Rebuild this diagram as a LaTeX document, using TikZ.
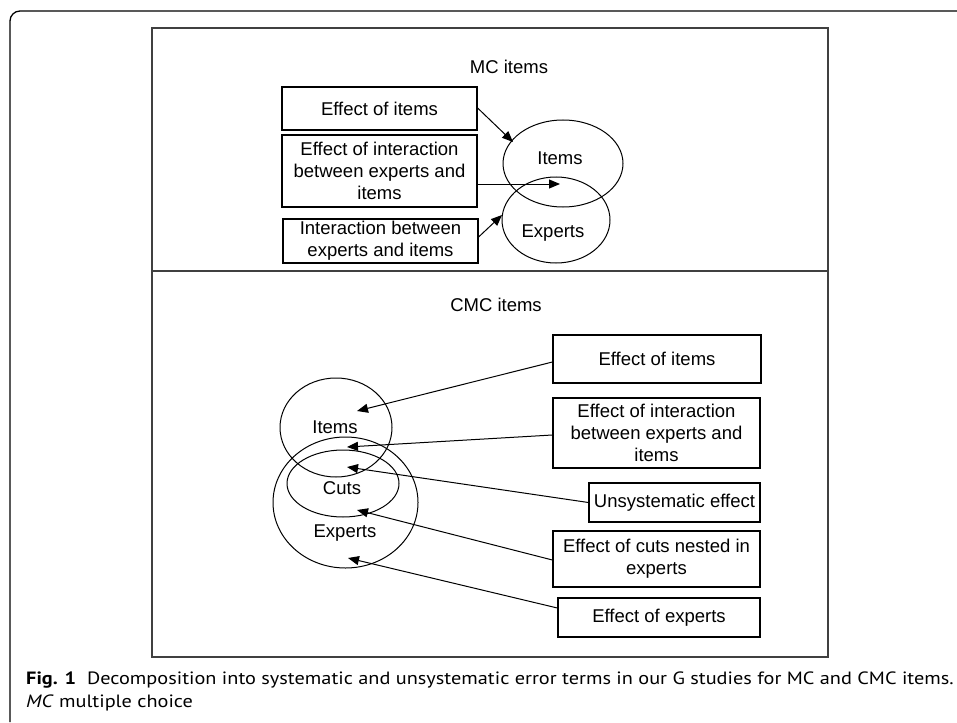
\documentclass[tikz,border=0pt]{standalone}
\usepackage{fontspec}
\setmainfont{Liberation Sans}
\newfontfamily\capfont[FakeStretch=1.14]{PT Sans}
\usepackage{tikz}
\usetikzlibrary{positioning,arrows.meta,calc,shapes.geometric}

\tikzset{
  effbox/.style={draw, line width=1.2pt, align=center, inner sep=0pt},
  setoval/.style={draw, ellipse, line width=1pt, inner sep=0pt},
  effarrow/.style={-{Triangle[length=11pt,width=9pt]}, line width=1pt},
}

\begin{document}
\begin{tikzpicture}[x=1pt, y=-1pt, font=\fontsize{18.5}{22.3}\selectfont]
        \useasboundingbox (0,0) rectangle (957,722);
        % outer frame of the figure
        \draw[line width=1.3pt] (957,11) -- (20,11) arc (270:180:10) -- (10,722);
        % frame of the diagram and the divider
        \draw[line width=1.6pt, black!75] (152,28) rectangle (828,657);
        \draw[line width=1.6pt, black!75] (152,271) -- (828,271);
        % MC items
        \node (mctitle) at (509,67) {MC items};
        \node[effbox, minimum width=195pt, minimum height=43pt] (mcitem) at (379.5,108.5) {Effect of items};
        \node[effbox, minimum width=195pt, minimum height=72pt] (mcinter) at (379.5,171) {Effect of interaction\\between experts and\\items};
        \node[effbox, minimum width=195pt, minimum height=44pt] (mcexpit) at (380.5,241) {Interaction between\\experts and items};
        \node[setoval, minimum width=120pt, minimum height=87pt] (mcitems) at (563,163.5) {};
        \node[setoval, minimum width=108pt, minimum height=86pt] (mcexperts) at (556,220) {};
        \node (mcitemslbl) at (560,158) {Items};
        \node (mcexpertslbl) at (553,233) {Experts};
        \coordinate (mctipa) at (513,142);
        \coordinate (mctipb) at (560,184);
        \coordinate (mctipc) at (502,215);
        \draw[effarrow] (mcitem.east |- 0,108) -- (mctipa);
        \draw[effarrow] (mcinter.east |- 0,184) -- (mctipb);
        \draw[effarrow] (mcexpit.east |- 0,237) -- (mctipc);
        % CMC items
        \node (cmctitle) at (496,305) {CMC items};
        \node[effbox, minimum width=208pt, minimum height=48pt] (cmcitem) at (657,359) {Effect of items};
        \node[effbox, minimum width=207pt, minimum height=70pt] (cmcinter) at (656.5,433) {Effect of interaction\\between experts and\\items};
        \node[effbox, minimum width=171pt, minimum height=39pt] (cmcunsys) at (674.5,502.5) {Unsystematic effect};
        \node[effbox, minimum width=207pt, minimum height=56pt] (cmccuts) at (656.5,559) {Effect of cuts nested in\\experts};
        \node[effbox, minimum width=202pt, minimum height=39pt] (cmcexp) at (659,617.5) {Effect of experts};
        \node[setoval, minimum width=112pt, minimum height=99pt] (cmcitems) at (336,427.5) {};
        \node[setoval, minimum width=145pt, minimum height=131pt] (cmcexperts) at (345.5,502.5) {};
        \node[setoval, minimum width=112pt, minimum height=67pt] (cmccutsov) at (343,483.5) {};
        \node (cmcitemslbl) at (335,427) {Items};
        \node (cmccutslbl) at (342,488) {Cuts};
        \node (cmcexpertslbl) at (345,533) {Experts};
        \coordinate (cmctipa) at (357,411);
        \coordinate (cmctipb) at (347,447);
        \coordinate (cmctipc) at (347,467);
        \coordinate (cmctipd) at (357,510);
        \coordinate (cmctipe) at (348,558);
        \draw[effarrow] (cmcitem.west |- 0,362) -- (cmctipa);
        \draw[effarrow] (cmcinter.west |- 0,435) -- (cmctipb);
        \draw[effarrow] (cmcunsys.west) -- (cmctipc);
        \draw[effarrow] (cmccuts.west |- 0,560) -- (cmctipd);
        \draw[effarrow] (cmcexp.west |- 0,608) -- (cmctipe);
        % caption
        \node[anchor=west, inner sep=0pt, font=\capfont\fontsize{17.8}{23}\selectfont] (capone) at (26,680) {\textbf{Fig. 1}\ \ Decomposition into systematic and unsystematic error terms in our G studies for MC and CMC items.};
        \node[anchor=west, inner sep=0pt, font=\capfont\fontsize{17.8}{23}\selectfont] (captwo) at (26,703) {\textit{MC} multiple choice};
    \end{tikzpicture}
\end{document}
